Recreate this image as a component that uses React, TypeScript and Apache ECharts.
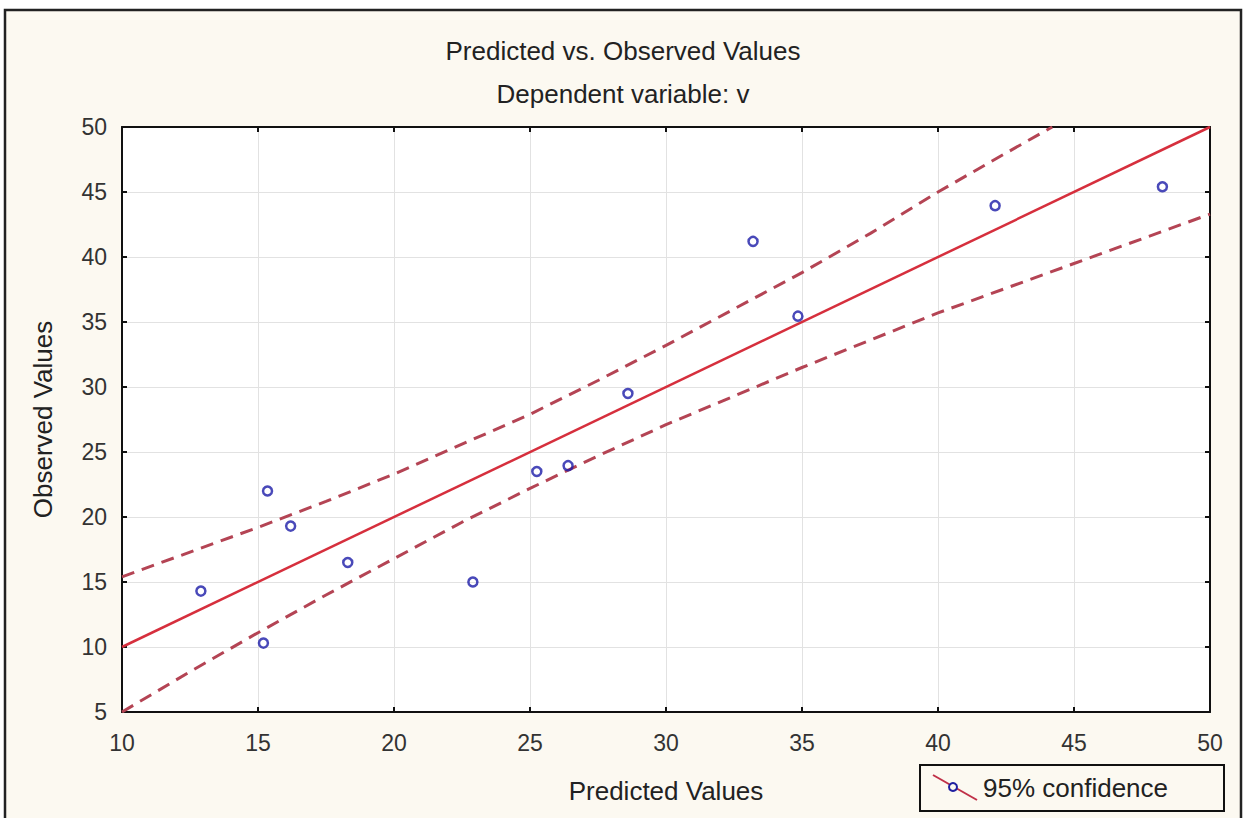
import React, { useEffect, useRef } from "react";
import * as echarts from "echarts";

const predicted = [12.9, 15.2, 15.35, 16.2, 18.3, 22.9, 25.25, 26.4, 28.6, 33.2, 34.85, 42.1, 48.25];
const observed = [14.3, 10.3, 22.0, 19.3, 16.5, 15.0, 23.5, 23.95, 29.5, 41.2, 35.45, 43.95, 45.4];

const fitX = [10, 50];
const fitY = [10, 50];

const upperX = [10, 12.5, 15, 17.5, 20, 22.5, 25, 27.5, 30, 32.5, 35, 37.5, 40, 42.5, 44.2];
const upperY = [15.4, 17.3, 19.2, 21.2, 23.3, 25.6, 27.9, 30.5, 33.2, 36.0, 38.8, 41.8, 45.0, 48.0, 50];

const lowerX = [10, 12.5, 15, 17.5, 20, 22.5, 25, 27.5, 30, 32.5, 35, 37.5, 40, 42.5, 45, 47.5, 50];
const lowerY = [5.0, 8.1, 11.1, 14.0, 16.8, 19.6, 22.2, 24.7, 27.1, 29.3, 31.5, 33.6, 35.7, 37.6, 39.5, 41.4, 43.3];

const FONT = "'Liberation Sans', Arial, sans-serif";
const CREAM = "#fcf9f1";

export default function App() {
  const ref = useRef<HTMLDivElement>(null);
  useEffect(() => {
    if (!ref.current) return;
    const chart = echarts.init(ref.current, undefined, { renderer: "svg" });
    const zip = (xs: number[], ys: number[]) => xs.map((x, i) => [x, ys[i]]);
    const axisLine = { show: true, onZero: false, lineStyle: { color: "#111", width: 2 } };
    const axisTick = { show: true, inside: true, length: 5, lineStyle: { color: "#111", width: 2 } };
    const bandStyle = { color: "#b44454", width: 3, type: [13, 8] };
    chart.setOption({
      animation: false,
      backgroundColor: "#ffffff",
      title: [
        {
          text: "Predicted vs. Observed Values",
          left: "center",
          top: 33,
          textStyle: { fontFamily: FONT, fontSize: 26, fontWeight: "normal", color: "#222" },
        },
        {
          text: "Dependent variable: v",
          left: "center",
          top: 76,
          textStyle: { fontFamily: FONT, fontSize: 26, fontWeight: "normal", color: "#222" },
        },
      ],
      grid: {
        left: 122,
        top: 127,
        right: 36,
        bottom: 106,
        show: true,
        backgroundColor: "#ffffff",
        borderWidth: 0,
      },
      xAxis: [
        {
          type: "value",
          min: 10,
          max: 50,
          interval: 5,
          name: "Predicted Values",
          nameLocation: "middle",
          nameGap: 66,
          nameTextStyle: { fontFamily: FONT, fontSize: 26, color: "#222", verticalAlign: "top" },
          axisLine,
          axisTick,
          axisLabel: { fontFamily: FONT, fontSize: 23, color: "#333", margin: 19 },
          splitLine: { show: true, lineStyle: { color: "#e2e2e2", width: 1 } },
        },
        {
          type: "value",
          min: 10,
          max: 50,
          interval: 5,
          position: "top",
          axisLine,
          axisTick,
          axisLabel: { show: false },
          splitLine: { show: false },
        },
      ],
      yAxis: [
        {
          type: "value",
          min: 5,
          max: 50,
          interval: 5,
          name: "Observed Values",
          nameLocation: "middle",
          nameGap: 66,
          nameTextStyle: { fontFamily: FONT, fontSize: 26, color: "#222" },
          axisLine,
          axisTick,
          axisLabel: { fontFamily: FONT, fontSize: 23, color: "#333", margin: 15 },
          splitLine: { show: true, lineStyle: { color: "#e2e2e2", width: 1 } },
        },
        {
          type: "value",
          min: 5,
          max: 50,
          interval: 5,
          position: "right",
          axisLine,
          axisTick,
          axisLabel: { show: false },
          splitLine: { show: false },
        },
      ],
      graphic: [
        {
          type: "rect",
          z: -10,
          silent: true,
          shape: { x: 5, y: 10, width: 1236, height: 840 },
          style: { fill: CREAM, stroke: "#222", lineWidth: 2.5 },
        },
        {
          type: "group",
          children: [
            {
              type: "rect",
              shape: { x: 920, y: 765, width: 304, height: 46 },
              style: { fill: CREAM, stroke: "#111", lineWidth: 2 },
            },
            {
              type: "line",
              shape: { x1: 933, y1: 775, x2: 977, y2: 800 },
              style: { stroke: "#c03048", lineWidth: 2 },
            },
            {
              type: "circle",
              shape: { cx: 953, cy: 787, r: 4 },
              style: { fill: CREAM, stroke: "#2020a0", lineWidth: 2 },
            },
            {
              type: "text",
              x: 983,
              y: 788,
              style: {
                text: "95% confidence",
                font: `26px ${FONT}`,
                fill: "#222",
                verticalAlign: "middle",
                align: "left",
              },
            },
          ],
        },
      ],
      series: [
        {
          type: "line",
          name: "fit",
          data: zip(fitX, fitY),
          symbol: "none",
          lineStyle: { color: "#d62f3d", width: 2.5 },
          z: 3,
        },
        {
          type: "line",
          name: "upper",
          data: zip(upperX, upperY),
          symbol: "none",
          clip: true,
          lineStyle: bandStyle,
          z: 3,
        },
        {
          type: "line",
          name: "lower",
          data: zip(lowerX, lowerY),
          symbol: "none",
          clip: true,
          lineStyle: bandStyle,
          z: 3,
        },
        {
          type: "scatter",
          name: "points",
          data: zip(predicted, observed),
          symbol: "circle",
          symbolSize: 9,
          itemStyle: { color: "rgba(255,255,255,0)", borderColor: "#1c1ca8", borderWidth: 2.5 },
          z: 5,
        },
      ],
    });
    return () => chart.dispose();
  }, []);
  return (
    <div
      ref={ref}
      style={{ position: "absolute", left: 0, top: 0, width: 1246, height: 818 }}
    />
  );
}
